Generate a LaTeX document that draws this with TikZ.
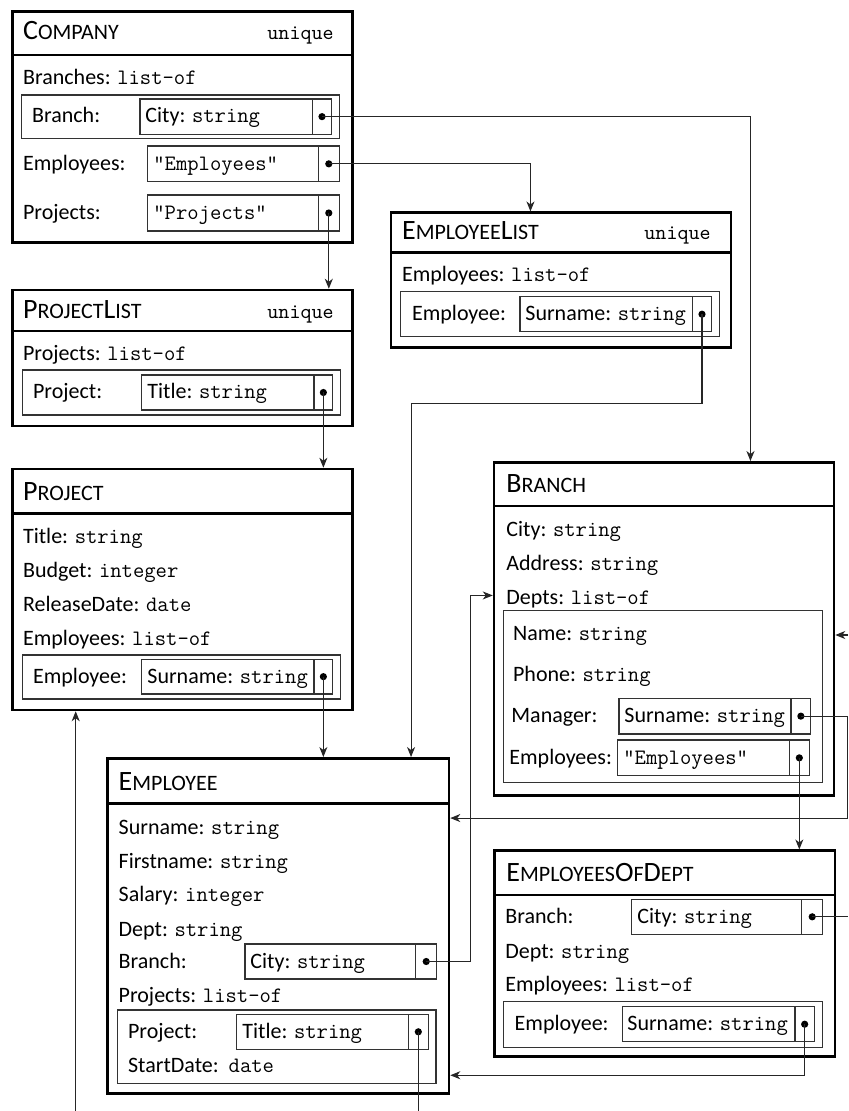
\documentclass[tikz,border=0pt]{standalone}
\usepackage{fontspec}
\setmainfont{Carlito}
\usetikzlibrary{fit,calc,arrows.meta}

\newcommand\smcap[1]{{\fontsize{11}{13}\selectfont\MakeUppercase{#1}}}

\begin{document}
\begin{tikzpicture}[x=0.5pt,y=-0.5pt,
  font=\fontsize{11}{13}\selectfont,
  recbox/.style={draw, line width=1.25pt, inner sep=0pt},
  subbox/.style={draw=black!80, line width=0.6pt, inner sep=0pt},
  lbl/.style={anchor=base west, inner sep=0pt},
  head/.style={anchor=base west, inner sep=0pt, font=\fontsize{14}{16}\selectfont},
  uniq/.style={anchor=base east, inner sep=0pt, font=\fontsize{10.5}{12.6}\selectfont\ttfamily},
  dot/.style={circle, fill, inner sep=0pt, minimum size=3.6pt},
  link/.style={draw=black!85, line width=0.55pt, -{Stealth[length=5pt,width=4pt,inset=1.5pt]}},
  wire/.style={draw=black!85, line width=0.55pt}]

\useasboundingbox (0,0) rectangle (848,1111);

% Company
\node[recbox, fit={(12.7,11.7) (352.7,242.7)}] (company) {};
\node[recbox, fit={(12.7,11.7) (352.7,55)}] (c-head) {};
\node[head] (c-title) at (22.7,40) {C\smcap{ompany}};
\node[uniq] (c-uniq) at (334,40) {unique};
\node[lbl] (c-branches) at (22.7,85) {Branches: \texttt{list-of}};
\node[subbox, fit={(21.7,95) (339.3,138.3)}] (c-brlist) {};
\node[lbl] (c-branch) at (31.7,123) {Branch:};
\node[subbox, fit={(140,99) (312.3,134.3)}] (c-city) {};
\node[subbox, fit={(312.3,99) (331.7,134.3)}] (c-cityp) {};
\node[lbl] (c-citytxt) at (145,123) {City: \texttt{string}};
\node[dot] (c-cityd) at (c-cityp.center) {};
\node[lbl] (c-emps) at (22.7,171) {Employees:};
\node[subbox, fit={(147.7,146) (318.3,181.7)}] (c-emp) {};
\node[subbox, fit={(318.3,146) (339.3,181.7)}] (c-empp) {};
\node[lbl] (c-emptxt) at (153,171) {\texttt{"Employees"}};
\node[dot] (c-empd) at (c-empp.center) {};
\node[lbl] (c-projs) at (22.7,219.5) {Projects:};
\node[subbox, fit={(147.7,195) (318.3,231)}] (c-proj) {};
\node[subbox, fit={(318.3,195) (339.3,231)}] (c-projp) {};
\node[lbl] (c-projtxt) at (153,219.5) {\texttt{"Projects"}};
\node[dot] (c-projd) at (c-projp.center) {};

% ProjectList
\node[recbox, fit={(12.7,290) (352.7,426)}] (projlist) {};
\node[recbox, fit={(12.7,290) (352.7,331)}] (pl-head) {};
\node[head] (pl-title) at (22.7,319) {P\smcap{roject}L\smcap{ist}};
\node[uniq] (pl-uniq) at (334,319) {unique};
\node[lbl] (pl-projs) at (22.7,361) {Projects: \texttt{list-of}};
\node[subbox, fit={(22.3,370) (340.7,415)}] (pl-list) {};
\node[lbl] (pl-proj) at (32.7,399) {Project:};
\node[subbox, fit={(141.7,375) (314,410)}] (pl-tit) {};
\node[subbox, fit={(314,375) (332.7,410)}] (pl-titp) {};
\node[lbl] (pl-tittxt) at (147,399) {Title: \texttt{string}};
\node[dot] (pl-titd) at (pl-titp.center) {};

% Project
\node[recbox, fit={(12.7,469) (352.7,710)}] (project) {};
\node[recbox, fit={(12.7,469) (352.7,513.3)}] (p-head) {};
\node[head] (p-title) at (22.7,500) {P\smcap{roject}};
\node[lbl] (p-tit) at (22.7,543.3) {Title: \texttt{string}};
\node[lbl] (p-bud) at (22.7,577.7) {Budget: \texttt{integer}};
\node[lbl] (p-rel) at (22.7,611.7) {ReleaseDate: \texttt{date}};
\node[lbl] (p-emps) at (22.7,645.7) {Employees: \texttt{list-of}};
\node[subbox, fit={(22.3,655) (340.7,699)}] (p-list) {};
\node[lbl] (p-emp) at (32.7,683) {Employee:};
\node[subbox, fit={(141.7,659.3) (314,694)}] (p-sur) {};
\node[subbox, fit={(314,659.3) (332.7,694)}] (p-surp) {};
\node[lbl] (p-surtxt) at (147,683) {Surname: \texttt{string}};
\node[dot] (p-surd) at (p-surp.center) {};

% EmployeeList
\node[recbox, fit={(391,212.7) (731,347.3)}] (emplist) {};
\node[recbox, fit={(391,212.7) (731,252.7)}] (el-head) {};
\node[head] (el-title) at (401.7,240) {E\smcap{mployee}L\smcap{ist}};
\node[uniq] (el-uniq) at (711,240) {unique};
\node[lbl] (el-emps) at (401.7,281.7) {Employees: \texttt{list-of}};
\node[subbox, fit={(400.7,291.7) (719.3,336.7)}] (el-list) {};
\node[lbl] (el-emp) at (411.7,320.7) {Employee:};
\node[subbox, fit={(520,296.7) (692.3,331.7)}] (el-sur) {};
\node[subbox, fit={(692.3,296.7) (711.7,331.7)}] (el-surp) {};
\node[lbl] (el-surtxt) at (525,320.7) {Surname: \texttt{string}};
\node[dot] (el-surd) at (el-surp.center) {};

% Branch
\node[recbox, fit={(494,462.3) (834,795.7)}] (branch) {};
\node[recbox, fit={(494,462.3) (834,506)}] (b-head) {};
\node[head] (b-title) at (506,492.7) {B\smcap{ranch}};
\node[lbl] (b-city) at (506,536) {City: \texttt{string}};
\node[lbl] (b-addr) at (506,570) {Address: \texttt{string}};
\node[lbl] (b-depts) at (506,604) {Depts: \texttt{list-of}};
\node[subbox, fit={(503.3,610.7) (822.3,782.7)}] (b-list) {};
\node[lbl] (b-name) at (512.7,640.7) {Name: \texttt{string}};
\node[lbl] (b-phone) at (512.7,681.7) {Phone: \texttt{string}};
\node[lbl] (b-man) at (511,722.7) {Manager:};
\node[subbox, fit={(619,698.3) (791,734)}] (b-sur) {};
\node[subbox, fit={(791,698.3) (810.7,734)}] (b-manp) {};
\node[lbl] (b-surtxt) at (624,722.7) {Surname: \texttt{string}};
\node[dot] (b-mand) at (b-manp.center) {};
\node[lbl] (b-emps) at (509,764.3) {Employees:};
\node[subbox, fit={(617.7,740) (789.3,775.7)}] (b-emp) {};
\node[subbox, fit={(789.3,740) (809.3,775.7)}] (b-empp) {};
\node[lbl] (b-emptxt) at (623,764.3) {\texttt{"Employees"}};
\node[dot] (b-empd) at (b-empp.center) {};

% Employee
\node[recbox, fit={(107.7,758.3) (449,1093.3)}] (employee) {};
\node[recbox, fit={(107.7,758.3) (449,803.3)}] (e-head) {};
\node[head] (e-title) at (118.3,790) {E\smcap{mployee}};
\node[lbl] (e-sur) at (118.3,834) {Surname: \texttt{string}};
\node[lbl] (e-first) at (118.3,868.3) {Firstname: \texttt{string}};
\node[lbl] (e-sal) at (118.3,901.7) {Salary: \texttt{integer}};
\node[lbl] (e-dept) at (118.3,936) {Dept: \texttt{string}};
\node[lbl] (e-branch) at (118.3,968) {Branch:};
\node[subbox, fit={(245,944) (415.7,979)}] (e-city) {};
\node[subbox, fit={(415.7,944) (436.7,979)}] (e-cityp) {};
\node[lbl] (e-citytxt) at (250,968) {City: \texttt{string}};
\node[dot] (e-cityd) at (e-cityp.center) {};
\node[lbl] (e-projs) at (118.3,1002.7) {Projects: \texttt{list-of}};
\node[subbox, fit={(117.3,1010) (436,1083.3)}] (e-list) {};
\node[lbl] (e-proj) at (127.7,1038.3) {Project:};
\node[subbox, fit={(236.7,1014.3) (408.3,1049.3)}] (e-tit) {};
\node[subbox, fit={(408.3,1014.3) (428.3,1049.3)}] (e-titp) {};
\node[lbl] (e-tittxt) at (242,1038.3) {Title: \texttt{string}};
\node[dot] (e-titd) at (e-titp.center) {};
\node[lbl] (e-start) at (127.7,1072.7) {StartDate:~~\texttt{date}};

% EmployeesOfDept
\node[recbox, fit={(494.3,850.7) (835,1056.7)}] (eod) {};
\node[recbox, fit={(494.3,850.7) (835,895)}] (eod-head) {};
\node[head] (eod-title) at (506,881.7) {E\smcap{mployees}O\smcap{f}D\smcap{ept}};
\node[lbl] (eod-branch) at (505,923.3) {Branch:};
\node[subbox, fit={(631.7,899.3) (801.7,934.3)}] (eod-city) {};
\node[subbox, fit={(801.7,899.3) (822.7,934.3)}] (eod-cityp) {};
\node[lbl] (eod-citytxt) at (637,923.3) {City: \texttt{string}};
\node[dot] (eod-cityd) at (eod-cityp.center) {};
\node[lbl] (eod-dept) at (505,958.3) {Dept: \texttt{string}};
\node[lbl] (eod-emps) at (505,991.7) {Employees: \texttt{list-of}};
\node[subbox, fit={(503.3,1001.7) (822.3,1047.3)}] (eod-list) {};
\node[lbl] (eod-emp) at (514.3,1030.7) {Employee:};
\node[subbox, fit={(622.7,1006.7) (795,1041.7)}] (eod-sur) {};
\node[subbox, fit={(795,1006.7) (814.3,1041.7)}] (eod-surp) {};
\node[lbl] (eod-surtxt) at (627,1030.7) {Surname: \texttt{string}};
\node[dot] (eod-surd) at (eod-surp.center) {};

% loose ends at the picture's rim
\coordinate (rimR) at (848,0);
\coordinate (rimB) at (0,1111);
\coordinate (offB) at (848,635);
\coordinate (offP) at (75.7,1111);

% pointers
\draw[link] (c-cityd.center) -| ($(branch.north west)+(257.7,0)$);
\draw[link] (c-empd.center) -| ($(emplist.north west)+(140.7,0)$);
\draw[link] (c-projd.center) -- (c-projd.center |- projlist.north);
\draw[link] (pl-titd.center) -- (pl-titd.center |- project.north);
\draw[link] (p-surd.center) -- (p-surd.center |- employee.north);
\draw[link] (el-surd.center) -- ++(0,89) -| ($(employee.north west)+(304.6,0)$);
\draw[link] (e-cityd.center) -- ++(44.3,0) |- ($(branch.north west)+(0,134.4)$);
\draw[link] (b-mand.center) -- ++(46.7,0) |- ($(employee.north east)+(0,61)$);
\draw[link] (b-empd.center) -- (b-empd.center |- eod.north);
\draw[link] (eod-surd.center) |- ($(employee.south east)+(0,-19.3)$);
\draw[wire] (eod-cityd.center) -- (eod-cityd.center -| rimR);
\draw[link] (offB) -- (offB -| branch.east);
\draw[link] (offP) -- (offP |- project.south);
\draw[wire] (e-titd.center) -- (e-titd.center |- rimB);

\end{tikzpicture}
\end{document}
